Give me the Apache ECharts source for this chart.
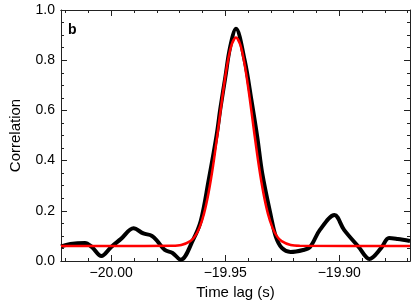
<!DOCTYPE html>
<html>
<head>
<meta charset="utf-8">
<script src="https://cdn.jsdelivr.net/npm/echarts@6/dist/echarts.min.js"></script>
<style>html,body{margin:0;padding:0;background:#fff}#c{width:415px;height:306px}</style>
</head>
<body>
<div id="c"></div>
<script>
// Measured correlation (black)
const blackTime = [-20.0220,-20.0179,-20.0115,-20.0085,-20.0043,-20.0000,-19.9957,-19.9902,-19.9859,-19.9821,-19.9795,-19.9765,-19.9731,-19.9695,-19.9641,-19.9607,-19.9573,-19.9538,-19.9521,-19.9500,-19.9479,-19.9453,-19.9415,-19.9385,-19.9359,-19.9338,-19.9299,-19.9278,-19.9252,-19.9214,-19.9158,-19.9128,-19.9085,-19.9021,-19.8979,-19.8915,-19.8868,-19.8816,-19.8782,-19.8744,-19.8690];
const blackCorr = [0.058,0.068,0.072,0.056,0.020,0.056,0.088,0.130,0.110,0.100,0.076,0.044,0.032,0.005,0.084,0.160,0.320,0.500,0.610,0.730,0.850,0.925,0.800,0.640,0.490,0.350,0.175,0.096,0.052,0.036,0.044,0.056,0.124,0.183,0.124,0.056,0.008,0.052,0.092,0.088,0.080];
// Gaussian fit (red)
const redTime = [-20.022,-19.9853,-19.9733,-19.9693,-19.9653,-19.9633,-19.9613,-19.9593,-19.9573,-19.9553,-19.9533,-19.9513,-19.9493,-19.9473,-19.9453,-19.9433,-19.9413,-19.9393,-19.9373,-19.9353,-19.9333,-19.9313,-19.9293,-19.9273,-19.9253,-19.9213,-19.9173,-19.869];
const redCorr = [0.06,0.06,0.0605,0.0635,0.079,0.098,0.133,0.189,0.272,0.381,0.512,0.650,0.773,0.859,0.89,0.859,0.773,0.650,0.512,0.381,0.272,0.189,0.133,0.098,0.079,0.0635,0.0605,0.06];
const xMajorTicks = [-20.00,-19.95,-19.90];
const xMinorTicks = [-20.02,-20.01,-19.99,-19.98,-19.97,-19.96,-19.94,-19.93,-19.92,-19.91,-19.89,-19.88,-19.87];
const xMin = -20.022, xMax = -19.869;
const panelLabel = 'b';

const FONT = 'Liberation Sans';
const axisCol = '#222';
const chart = echarts.init(document.getElementById('c'), null, {renderer: 'canvas'});

function xAx(pos, ticks, len, withLabels, extra) {
  return Object.assign({
    type: 'value', position: pos, min: xMin, max: xMax,
    axisLine: {show: true, onZero: false, lineStyle: {color: axisCol, width: 1}},
    axisTick: {show: true, inside: true, length: len, customValues: ticks, lineStyle: {color: axisCol, width: 1}},
    axisLabel: withLabels ? {show: true, customValues: ticks, margin: 5, color: '#000', fontFamily: FONT, fontSize: 14,
      formatter: v => Number(v).toFixed(2).replace('-', '\u2212')} : {show: false},
    splitLine: {show: false}
  }, extra || {});
}
function yAx(pos, withLabels, extra) {
  return Object.assign({
    type: 'value', position: pos, min: 0, max: 1, interval: 0.2,
    axisLine: {show: true, onZero: false, lineStyle: {color: axisCol, width: 1}},
    axisTick: {show: true, inside: true, length: 6, lineStyle: {color: axisCol, width: 1}},
    minorTick: {show: true, splitNumber: 4, length: 3, lineStyle: {color: axisCol, width: 1}},
    axisLabel: withLabels ? {show: true, margin: 6, color: '#000', fontFamily: FONT, fontSize: 14,
      formatter: v => Number(v).toFixed(1)} : {show: false},
    splitLine: {show: false}, minorSplitLine: {show: false}
  }, extra || {});
}

chart.setOption({
  animation: false,
  backgroundColor: '#fff',
  grid: {left: 52, top: 10, right: 5, bottom: 45, containLabel: false},
  xAxis: [
    xAx('bottom', xMajorTicks, 6, true, {name: 'Time lag (s)', nameLocation: 'middle', nameGap: 24,
      nameTextStyle: {color: '#000', fontFamily: FONT, fontSize: 15}}),
    xAx('bottom', xMinorTicks, 3, false),
    xAx('top', xMajorTicks, 6, false),
    xAx('top', xMinorTicks, 3, false)
  ],
  yAxis: [
    yAx('left', true, {name: 'Correlation', nameLocation: 'middle', nameGap: 38,
      nameTextStyle: {color: '#000', fontFamily: FONT, fontSize: 15}}),
    yAx('right', false)
  ],
  graphic: [{type: 'text', left: 68, top: 23, style: {text: panelLabel, font: 'bold 14px "Liberation Sans"', fill: '#000'}}],
  series: [
    {type: 'line', xAxisIndex: 0, yAxisIndex: 0, data: blackTime.map((t, i) => [t, blackCorr[i]]),
     showSymbol: false, smooth: 0.35, lineStyle: {color: '#000', width: 4}, z: 2},
    {type: 'line', xAxisIndex: 0, yAxisIndex: 0, data: redTime.map((t, i) => [t, redCorr[i]]),
     showSymbol: false, smooth: 0.3, lineStyle: {color: '#ff0000', width: 2.5}, z: 3}
  ]
});
</script>
</body>
</html>
